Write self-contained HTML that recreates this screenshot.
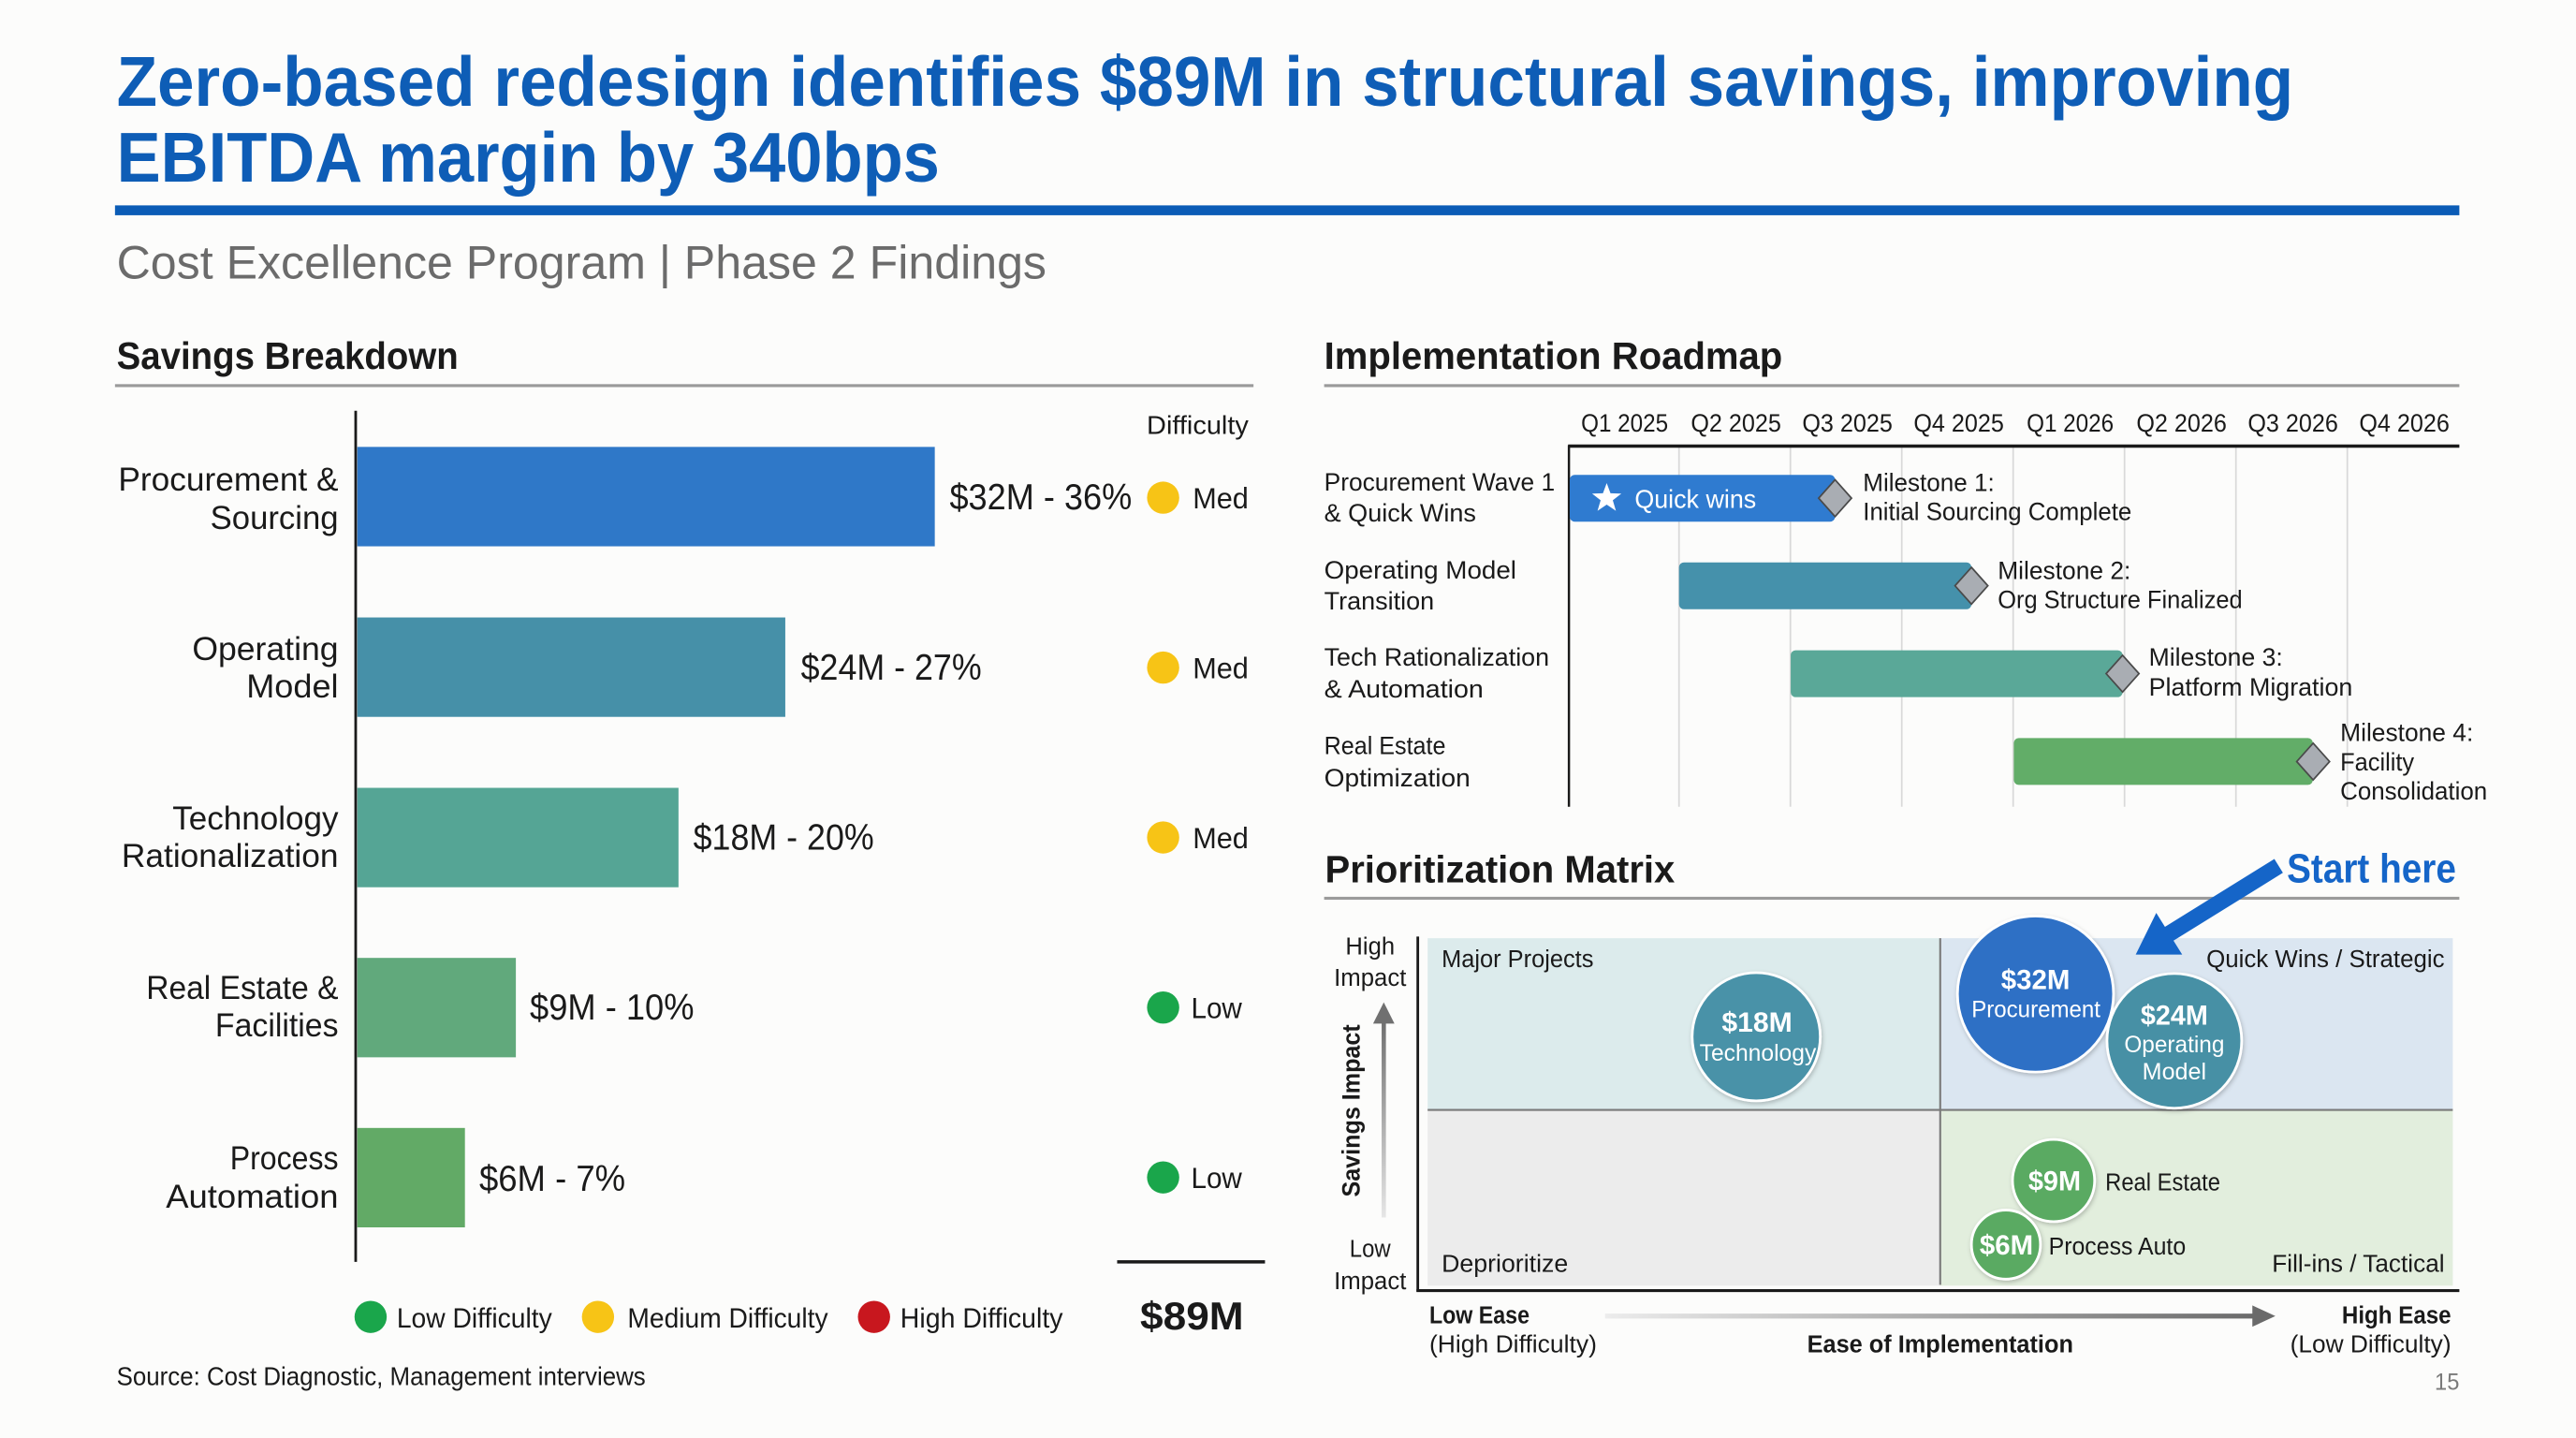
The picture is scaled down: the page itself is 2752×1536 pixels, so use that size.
<!DOCTYPE html>
<html>
<head>
<meta charset="utf-8">
<style>
html,body{margin:0;padding:0;background:#fcfcfb;overflow:hidden;}
svg{display:block;}
text{font-family:"Liberation Sans",Arial,sans-serif;}
</style>
</head>
<body>
<svg width="2752" height="1536" viewBox="0 0 1568 875.2" preserveAspectRatio="none" xmlns="http://www.w3.org/2000/svg">
<defs>
<linearGradient id="gv" x1="0" y1="1" x2="0" y2="0">
<stop offset="0" stop-color="#e6e6e6"/><stop offset="1" stop-color="#6e6e6e"/>
</linearGradient>
<linearGradient id="gh" x1="0" y1="0" x2="1" y2="0">
<stop offset="0" stop-color="#ececec"/><stop offset="1" stop-color="#6a6a6a"/>
</linearGradient>
<filter id="sh" x="-20%" y="-20%" width="140%" height="140%">
<feDropShadow dx="0.6" dy="1.2" stdDeviation="1.4" flood-color="#000" flood-opacity="0.22"/>
</filter>
</defs>
<rect x="0" y="0" width="1568" height="875.2" fill="#fcfcfb"/>

<!-- Title -->
<text x="71" y="64.5" font-size="43" font-weight="bold" fill="#0e5db6" textLength="1325" lengthAdjust="spacingAndGlyphs">Zero-based redesign identifies $89M in structural savings, improving</text>
<text x="71" y="110.5" font-size="43" font-weight="bold" fill="#0e5db6" textLength="501" lengthAdjust="spacingAndGlyphs">EBITDA margin by 340bps</text>
<rect x="70" y="125" width="1427" height="6" fill="#0b5cb6"/>
<text x="71" y="169.5" font-size="28.5" fill="#6b6b6b" textLength="566" lengthAdjust="spacingAndGlyphs">Cost Excellence Program | Phase 2 Findings</text>

<!-- Savings Breakdown -->
<text x="71" y="224.5" font-size="23" font-weight="bold" fill="#1a1a1a" textLength="208" lengthAdjust="spacingAndGlyphs">Savings Breakdown</text>
<rect x="70" y="233.8" width="693" height="1.8" fill="#9a9a9a"/>

<line x1="216.5" y1="250" x2="216.5" y2="768" stroke="#1a1a1a" stroke-width="1.6"/>
<text x="760" y="264" font-size="16" fill="#1a1a1a" text-anchor="end" textLength="62" lengthAdjust="spacingAndGlyphs">Difficulty</text>

<g fill="#1a1a1a" font-size="20" text-anchor="end">
<text x="206" y="298.6" textLength="134" lengthAdjust="spacingAndGlyphs">Procurement &amp;</text>
<text x="206" y="322" textLength="78" lengthAdjust="spacingAndGlyphs">Sourcing</text>
<text x="206" y="401.7" textLength="89" lengthAdjust="spacingAndGlyphs">Operating</text>
<text x="206" y="424.5" textLength="56" lengthAdjust="spacingAndGlyphs">Model</text>
<text x="206" y="504.8" textLength="101" lengthAdjust="spacingAndGlyphs">Technology</text>
<text x="206" y="527.6" textLength="132" lengthAdjust="spacingAndGlyphs">Rationalization</text>
<text x="206" y="608" textLength="117" lengthAdjust="spacingAndGlyphs">Real Estate &amp;</text>
<text x="206" y="630.7" textLength="75" lengthAdjust="spacingAndGlyphs">Facilities</text>
<text x="206" y="711.7" textLength="66" lengthAdjust="spacingAndGlyphs">Process</text>
<text x="206" y="735" textLength="105" lengthAdjust="spacingAndGlyphs">Automation</text>
</g>

<rect x="217.5" y="272" width="351.5" height="60.5" fill="#2f78c8"/>
<rect x="217.5" y="375.8" width="260.5" height="60.5" fill="#4690a8"/>
<rect x="217.5" y="479.5" width="195.5" height="60.5" fill="#55a595"/>
<rect x="217.5" y="583" width="96.5" height="60.5" fill="#61a97c"/>
<rect x="217.5" y="686.5" width="65.5" height="60.5" fill="#62aa66"/>

<g fill="#1a1a1a" font-size="22">
<text x="578" y="310" textLength="111" lengthAdjust="spacingAndGlyphs">$32M - 36%</text>
<text x="487.5" y="413.6" textLength="110" lengthAdjust="spacingAndGlyphs">$24M - 27%</text>
<text x="422" y="517" textLength="110" lengthAdjust="spacingAndGlyphs">$18M - 20%</text>
<text x="322.5" y="620.6" textLength="100" lengthAdjust="spacingAndGlyphs">$9M - 10%</text>
<text x="291.7" y="724.8" textLength="89" lengthAdjust="spacingAndGlyphs">$6M - 7%</text>
</g>

<circle cx="708" cy="302.9" r="9.8" fill="#f7c416"/>
<circle cx="708" cy="406.3" r="9.8" fill="#f7c416"/>
<circle cx="708" cy="509.7" r="9.8" fill="#f7c416"/>
<circle cx="708" cy="613.2" r="9.8" fill="#1aa64b"/>
<circle cx="708" cy="716.6" r="9.8" fill="#1aa64b"/>
<g fill="#1a1a1a" font-size="18">
<text x="726" y="309.4" textLength="34" lengthAdjust="spacingAndGlyphs">Med</text>
<text x="726" y="412.8" textLength="34" lengthAdjust="spacingAndGlyphs">Med</text>
<text x="726" y="516.2" textLength="34" lengthAdjust="spacingAndGlyphs">Med</text>
<text x="725" y="619.7" textLength="31" lengthAdjust="spacingAndGlyphs">Low</text>
<text x="725" y="723.1" textLength="31" lengthAdjust="spacingAndGlyphs">Low</text>
</g>

<rect x="680" y="767" width="90" height="2" fill="#1a1a1a"/>
<text x="694" y="809" font-size="24" font-weight="bold" fill="#1a1a1a" textLength="63" lengthAdjust="spacingAndGlyphs">$89M</text>

<circle cx="225.6" cy="801.5" r="9.8" fill="#1aa64b"/>
<text x="241.5" y="808" font-size="17" fill="#1a1a1a" textLength="94.5" lengthAdjust="spacingAndGlyphs">Low Difficulty</text>
<circle cx="364" cy="801.5" r="9.8" fill="#f7c416"/>
<text x="382" y="808" font-size="17" fill="#1a1a1a" textLength="122" lengthAdjust="spacingAndGlyphs">Medium Difficulty</text>
<circle cx="532" cy="801.5" r="9.8" fill="#c8171e"/>
<text x="548" y="808" font-size="17" fill="#1a1a1a" textLength="99" lengthAdjust="spacingAndGlyphs">High Difficulty</text>

<text x="71" y="843" font-size="16" fill="#1a1a1a" textLength="322" lengthAdjust="spacingAndGlyphs">Source: Cost Diagnostic, Management interviews</text>

<!-- Implementation Roadmap -->
<text x="806" y="224.6" font-size="23" font-weight="bold" fill="#1a1a1a" textLength="279" lengthAdjust="spacingAndGlyphs">Implementation Roadmap</text>
<rect x="806" y="233.8" width="691" height="1.8" fill="#9a9a9a"/>

<g fill="#1a1a1a" font-size="15.5" text-anchor="middle">
<text x="988.9" y="262.6" textLength="53" lengthAdjust="spacingAndGlyphs">Q1 2025</text>
<text x="1056.7" y="262.6" textLength="55" lengthAdjust="spacingAndGlyphs">Q2 2025</text>
<text x="1124.5" y="262.6" textLength="55" lengthAdjust="spacingAndGlyphs">Q3 2025</text>
<text x="1192.3" y="262.6" textLength="55" lengthAdjust="spacingAndGlyphs">Q4 2025</text>
<text x="1260.1" y="262.6" textLength="53" lengthAdjust="spacingAndGlyphs">Q1 2026</text>
<text x="1327.9" y="262.6" textLength="55" lengthAdjust="spacingAndGlyphs">Q2 2026</text>
<text x="1395.7" y="262.6" textLength="55" lengthAdjust="spacingAndGlyphs">Q3 2026</text>
<text x="1463.5" y="262.6" textLength="55" lengthAdjust="spacingAndGlyphs">Q4 2026</text>
</g>

<g stroke="#d9d9d9" stroke-width="1">
<line x1="1022" y1="272" x2="1022" y2="491"/>
<line x1="1089.8" y1="272" x2="1089.8" y2="491"/>
<line x1="1157.6" y1="272" x2="1157.6" y2="491"/>
<line x1="1225.4" y1="272" x2="1225.4" y2="491"/>
<line x1="1293.2" y1="272" x2="1293.2" y2="491"/>
<line x1="1361" y1="272" x2="1361" y2="491"/>
<line x1="1428.8" y1="272" x2="1428.8" y2="491"/>
</g>
<line x1="954.5" y1="271.5" x2="1497" y2="271.5" stroke="#1a1a1a" stroke-width="2"/>
<line x1="955" y1="271" x2="955" y2="491" stroke="#1a1a1a" stroke-width="1.4"/>

<g fill="#1a1a1a" font-size="15.5">
<text x="806" y="298.6" textLength="140.5" lengthAdjust="spacingAndGlyphs">Procurement Wave 1</text>
<text x="806" y="317.3" textLength="92.5" lengthAdjust="spacingAndGlyphs">&amp; Quick Wins</text>
<text x="806" y="352" textLength="117" lengthAdjust="spacingAndGlyphs">Operating Model</text>
<text x="806" y="371" textLength="67" lengthAdjust="spacingAndGlyphs">Transition</text>
<text x="806" y="405" textLength="137" lengthAdjust="spacingAndGlyphs">Tech Rationalization</text>
<text x="806" y="424.5" textLength="97" lengthAdjust="spacingAndGlyphs">&amp; Automation</text>
<text x="806" y="459" textLength="74" lengthAdjust="spacingAndGlyphs">Real Estate</text>
<text x="806" y="478.5" textLength="89" lengthAdjust="spacingAndGlyphs">Optimization</text>
</g>

<rect x="955.5" y="289" width="161.5" height="28.5" rx="3" fill="#2f7bd0"/>
<rect x="1022" y="342.3" width="178" height="28.5" rx="3" fill="#4591ab"/>
<rect x="1090" y="395.8" width="202" height="28.5" rx="3" fill="#5aa898"/>
<rect x="1225.8" y="449.2" width="182" height="28.5" rx="3" fill="#62ad68"/>

<polygon points="978,294 980.3,300.2 986.9,300.4 981.7,304.5 983.6,310.9 978,307.1 972.4,310.9 974.3,304.5 969.1,300.4 975.7,300.2" fill="#ffffff"/>
<text x="995" y="309" font-size="16" fill="#ffffff" textLength="74" lengthAdjust="spacingAndGlyphs">Quick wins</text>

<g fill="#a9adb3" stroke="#4a4a4a" stroke-width="1">
<polygon points="1117,292 1127,303.2 1117,314.4 1107,303.2"/>
<polygon points="1200,345.3 1210,356.5 1200,367.7 1190,356.5"/>
<polygon points="1292,398.8 1302,410 1292,421.2 1282,410"/>
<polygon points="1408,452.3 1418,463.5 1408,474.7 1398,463.5"/>
</g>

<g fill="#1a1a1a" font-size="15.5">
<text x="1134" y="299" textLength="80" lengthAdjust="spacingAndGlyphs">Milestone 1:</text>
<text x="1134" y="316.6" textLength="163.5" lengthAdjust="spacingAndGlyphs">Initial Sourcing Complete</text>
<text x="1216" y="352.5" textLength="81" lengthAdjust="spacingAndGlyphs">Milestone 2:</text>
<text x="1216" y="370" textLength="149" lengthAdjust="spacingAndGlyphs">Org Structure Finalized</text>
<text x="1308" y="405" textLength="81.5" lengthAdjust="spacingAndGlyphs">Milestone 3:</text>
<text x="1308" y="423.5" textLength="124" lengthAdjust="spacingAndGlyphs">Platform Migration</text>
<text x="1424.5" y="451" textLength="81" lengthAdjust="spacingAndGlyphs">Milestone 4:</text>
<text x="1424.5" y="469" textLength="45" lengthAdjust="spacingAndGlyphs">Facility</text>
<text x="1424.5" y="486.6" textLength="89.5" lengthAdjust="spacingAndGlyphs">Consolidation</text>
</g>

<!-- Prioritization Matrix -->
<text x="806.5" y="537" font-size="23" font-weight="bold" fill="#1a1a1a" textLength="213" lengthAdjust="spacingAndGlyphs">Prioritization Matrix</text>
<text x="1495" y="537" font-size="25" font-weight="bold" fill="#1565c8" text-anchor="end" textLength="103" lengthAdjust="spacingAndGlyphs">Start here</text>
<rect x="806" y="545.8" width="691" height="1.8" fill="#9a9a9a"/>

<rect x="869" y="571" width="312" height="104.5" fill="#dcebec"/>
<rect x="1181" y="571" width="312" height="104.5" fill="#dbe6f1"/>
<rect x="869" y="675.5" width="312" height="107" fill="#ececec"/>
<rect x="1181" y="675.5" width="312" height="107" fill="#e2eedd"/>
<line x1="1181" y1="571" x2="1181" y2="782" stroke="#7a7a7a" stroke-width="1.2"/>
<line x1="869" y1="675.5" x2="1493" y2="675.5" stroke="#7a7a7a" stroke-width="1.2"/>
<line x1="863" y1="570" x2="863" y2="786" stroke="#1a1a1a" stroke-width="1.6"/>
<line x1="862.2" y1="785.5" x2="1497" y2="785.5" stroke="#1a1a1a" stroke-width="1.8"/>

<g fill="#1a1a1a" font-size="15">
<text x="877.5" y="588.5" textLength="92.5" lengthAdjust="spacingAndGlyphs">Major Projects</text>
<text x="1488" y="588.5" text-anchor="end" textLength="145" lengthAdjust="spacingAndGlyphs">Quick Wins / Strategic</text>
<text x="877.5" y="774" textLength="77" lengthAdjust="spacingAndGlyphs">Deprioritize</text>
<text x="1488" y="774" text-anchor="end" textLength="105" lengthAdjust="spacingAndGlyphs">Fill-ins / Tactical</text>
</g>

<g fill="#1a1a1a" font-size="15" text-anchor="middle">
<text x="834" y="581" textLength="30" lengthAdjust="spacingAndGlyphs">High</text>
<text x="834" y="600" textLength="44" lengthAdjust="spacingAndGlyphs">Impact</text>
<text x="834" y="765" textLength="25" lengthAdjust="spacingAndGlyphs">Low</text>
<text x="834" y="784.5" textLength="44" lengthAdjust="spacingAndGlyphs">Impact</text>
</g>
<text transform="translate(827.5,676) rotate(-90)" text-anchor="middle" font-size="15.5" font-weight="bold" fill="#1a1a1a" textLength="105" lengthAdjust="spacingAndGlyphs">Savings Impact</text>
<rect x="841" y="620" width="2.6" height="121" fill="url(#gv)"/>
<polygon points="842.3,610 835.8,623 848.8,623" fill="#707070"/>

<!-- arrow -->
<polygon points="1300,581 1312.5,555.6 1317.8,564.1 1384.4,522.8 1389.6,531.2 1323,572.5 1328.3,581" fill="#1565c8"/>

<!-- bubbles -->
<g filter="url(#sh)" stroke="#ffffff" stroke-width="1.6">
<circle cx="1069" cy="631" r="39" fill="#4892a8"/>
<circle cx="1239" cy="605" r="47.5" fill="#2d6fc5"/>
<circle cx="1323.5" cy="633.5" r="41" fill="#4690a5"/>
<circle cx="1250" cy="718.5" r="25" fill="#5aaa62"/>
<circle cx="1221" cy="757.5" r="21" fill="#5aaa62"/>
</g>
<g fill="#ffffff" text-anchor="middle">
<text x="1069.5" y="628" font-size="17" font-weight="bold" textLength="43" lengthAdjust="spacingAndGlyphs">$18M</text>
<text x="1070" y="645.6" font-size="14" textLength="71" lengthAdjust="spacingAndGlyphs">Technology</text>
<text x="1239" y="602" font-size="17" font-weight="bold" textLength="42" lengthAdjust="spacingAndGlyphs">$32M</text>
<text x="1239.3" y="619" font-size="14" textLength="78.5" lengthAdjust="spacingAndGlyphs">Procurement</text>
<text x="1323.5" y="623.5" font-size="17" font-weight="bold" textLength="41" lengthAdjust="spacingAndGlyphs">$24M</text>
<text x="1323.5" y="640.5" font-size="14" textLength="61" lengthAdjust="spacingAndGlyphs">Operating</text>
<text x="1323.5" y="657" font-size="14" textLength="39" lengthAdjust="spacingAndGlyphs">Model</text>
<text x="1250.6" y="724.6" font-size="17" font-weight="bold" textLength="32" lengthAdjust="spacingAndGlyphs">$9M</text>
<text x="1221.3" y="763.5" font-size="17" font-weight="bold" textLength="32.6" lengthAdjust="spacingAndGlyphs">$6M</text>
</g>
<g fill="#1a1a1a" font-size="15">
<text x="1281.5" y="724.6" textLength="70" lengthAdjust="spacingAndGlyphs">Real Estate</text>
<text x="1247" y="763.5" textLength="83.5" lengthAdjust="spacingAndGlyphs">Process Auto</text>
</g>

<!-- x axis labels -->
<g fill="#1a1a1a" font-size="15">
<text x="870" y="805.4" font-weight="bold" textLength="61" lengthAdjust="spacingAndGlyphs">Low Ease</text>
<text x="870" y="823" textLength="102" lengthAdjust="spacingAndGlyphs">(High Difficulty)</text>
<text x="1492" y="805.4" font-weight="bold" text-anchor="end" textLength="66.5" lengthAdjust="spacingAndGlyphs">High Ease</text>
<text x="1492" y="823" text-anchor="end" textLength="98" lengthAdjust="spacingAndGlyphs">(Low Difficulty)</text>
<text x="1181" y="823" font-weight="bold" text-anchor="middle" textLength="162" lengthAdjust="spacingAndGlyphs">Ease of Implementation</text>
</g>
<rect x="977" y="799.5" width="396" height="3" fill="url(#gh)"/>
<polygon points="1385,801 1371,794.5 1371,807.5" fill="#6a6a6a"/>

<text x="1497" y="846" font-size="14" fill="#7a7a7a" text-anchor="end" textLength="15" lengthAdjust="spacingAndGlyphs">15</text>
</svg>
</body>
</html>
